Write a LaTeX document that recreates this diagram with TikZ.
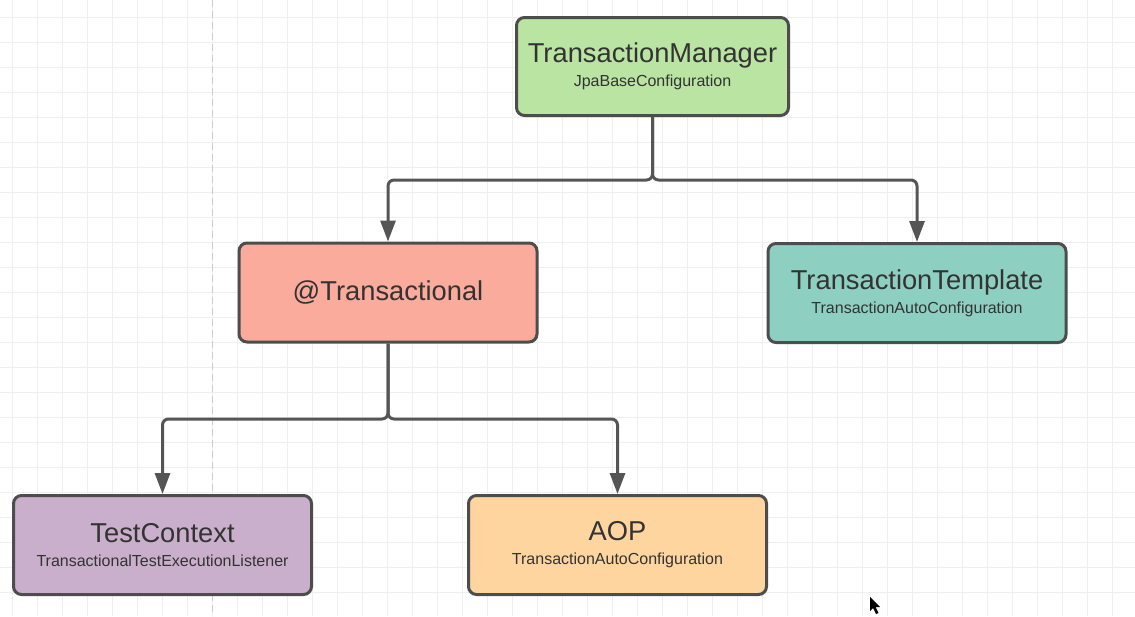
\documentclass[tikz,border=0pt]{standalone}
\usepackage{fontspec}
\setmainfont{Liberation Sans}
\usepackage{xcolor}
\usetikzlibrary{arrows.meta, calc}

\definecolor{tmgreen}{HTML}{B9E4A2}
\definecolor{txsalmon}{HTML}{FAAB9C}
\definecolor{ttteal}{HTML}{8DCFC0}
\definecolor{tcpurple}{HTML}{C9AFCB}
\definecolor{aoporange}{HTML}{FED59F}
\definecolor{boxline}{HTML}{4D4D4D}
\definecolor{textgray}{HTML}{333333}
\definecolor{connline}{HTML}{555555}
\definecolor{gridgray}{HTML}{EFEFEF}

\newcommand{\titlefont}{\fontsize{27.3}{24}\selectfont}
\newcommand{\subfont}{\fontsize{16}{24}\selectfont}

\begin{document}
\begin{tikzpicture}[x=1pt, y=-1pt,
  box/.style={draw=boxline, line width=3pt, rounded corners=8pt,
    minimum width=298pt, minimum height=99pt, align=center,
    text=textgray, font=\titlefont, inner sep=0pt},
  conn/.style={draw=connline, line width=3pt, rounded corners=6pt,
    -{Triangle[length=21pt, width=15pt]}},
  gridline/.style={draw=gridgray, line width=1pt}
]
  \useasboundingbox (0,0) rectangle (1135,616);
  \fill[white] (0,0) rectangle (1135,616);

  % Background grid
  \foreach \gx in {12,37,...,1135}
    \draw[gridline] (\gx,0) -- (\gx,616);
  \foreach \gy in {17,42,...,616}
    \draw[gridline] (0,\gy) -- (1135,\gy);
  \draw[draw=black!20, line width=1pt, dash pattern=on 7pt off 4pt] (212,0) -- (212,616);

  % Boxes
  \node[box, fill=tmgreen, minimum width=272pt, minimum height=98pt] (manager) at (652.5,66.5)
    {TransactionManager\\{\subfont JpaBaseConfiguration}};
  \node[box, fill=txsalmon] (transactional) at (388,292.5) {@Transactional};
  \node[box, fill=ttteal] (template) at (917,293)
    {TransactionTemplate\\{\subfont TransactionAutoConfiguration}};
  \node[box, fill=tcpurple] (testctx) at (162.5,545)
    {TestContext\\{\subfont TransactionalTestExecutionListener}};
  \node[box, fill=aoporange] (aop) at (617.5,545)
    {AOP\\{\subfont TransactionAutoConfiguration}};

  % Junctions
  \coordinate (split1) at (652.5,180);
  \coordinate (split2) at (388,419);

  % Connectors
  \draw[conn] (manager.south) -- (split1) -| (transactional.north);
  \draw[conn] (manager.south) -- (split1) -| (template.north);
  \draw[conn] (transactional.south) -- (split2) -| (testctx.north);
  \draw[conn] (transactional.south) -- (split2) -| (aop.north);

  % Mouse pointer
  \fill[black] (870,597) -- (870,611) -- (873,608) -- (876,614) -- (878.5,613)
    -- (875.5,607) -- (880,607) -- cycle;
\end{tikzpicture}
\end{document}
